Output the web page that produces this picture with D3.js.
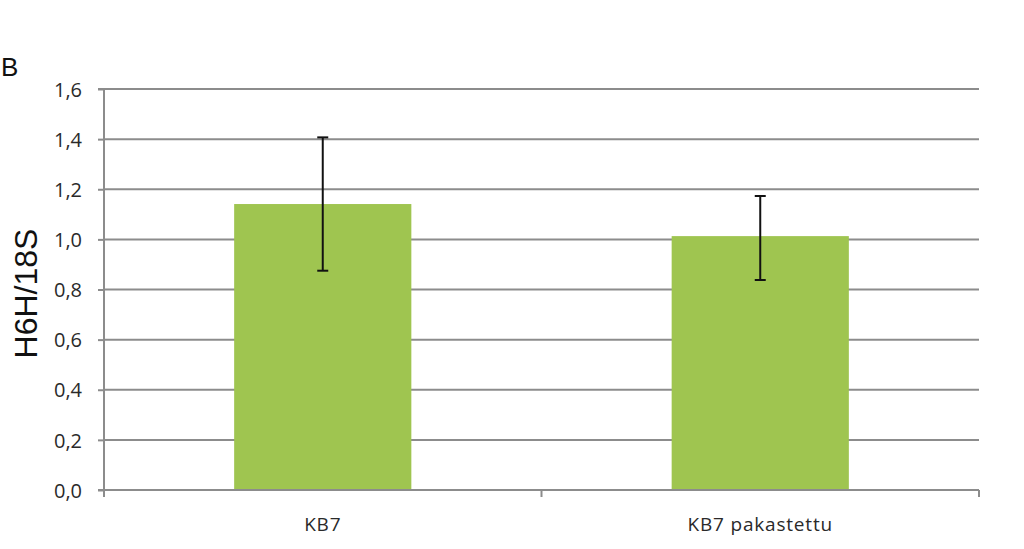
<!DOCTYPE html>
<html><head><meta charset="utf-8">
<script src="https://cdn.jsdelivr.net/npm/d3@7"></script>
<style>body{margin:0;background:#fff}</style>
</head><body>
<svg id="c" width="1024" height="549"></svg>
<script>
const categories = ["KB7", "KB7 pakastettu"];
const values = [1.141, 1.013];
const errorsUp = [0.266, 0.160];
const errorsDown = [0.266, 0.175];
const yTicks = [0, 0.2, 0.4, 0.6, 0.8, 1.0, 1.2, 1.4, 1.6];

const svg = d3.select("#c");
const L = 104, R = 979, T = 89, B = 490;
const x = d3.scaleBand().domain(categories).range([L, R]).paddingInner(0.595).paddingOuter(0.2975);
const y = d3.scaleLinear().domain([0, 1.6]).range([B, T]);
const grid = "#8c8c8c";
const tickFont = "'Open Sans', sans-serif";

// gridlines
svg.append("g").selectAll("line").data(yTicks.slice(1)).join("line")
  .attr("x1", L).attr("x2", R).attr("y1", d => y(d)).attr("y2", d => y(d))
  .attr("stroke", grid).attr("stroke-width", 2);

// bars
svg.append("g").selectAll("rect").data(categories).join("rect")
  .attr("x", d => x(d)).attr("width", x.bandwidth())
  .attr("y", (d, i) => y(values[i])).attr("height", (d, i) => B - y(values[i]))
  .attr("fill", "#9fc550");

// y axis
const yAxis = d3.axisLeft(y).tickValues(yTicks).tickSize(6).tickPadding(16)
  .tickFormat(d => d3.format(".1f")(d).replace(".", ","));
const ya = svg.append("g").attr("transform", `translate(${L},0)`).call(yAxis);
ya.select(".domain").attr("stroke", grid).attr("stroke-width", 2).attr("d", `M-6,${T}H0V${B}H-6`);
ya.selectAll(".tick line").attr("stroke", grid).attr("stroke-width", 2);
ya.selectAll(".tick text").style("font-family", tickFont)
  .style("font-size", "20px").attr("fill", "#2a2a2a").attr("dy", "0.36em");

// x axis
const xb = d3.scaleLinear().domain([0, categories.length]).range([L, R]);
const xa = svg.append("g").attr("transform", `translate(0,${B})`);
xa.append("line").attr("x1", L).attr("x2", R).attr("stroke", grid).attr("stroke-width", 2);
xa.selectAll("line.t").data(d3.range(categories.length + 1)).join("line").attr("class", "t")
  .attr("x1", d => xb(d)).attr("x2", d => xb(d)).attr("y1", 0).attr("y2", 7)
  .attr("stroke", grid).attr("stroke-width", 2);
xa.selectAll("text").data(categories).join("text")
  .attr("x", d => x(d) + x.bandwidth() / 2).attr("y", 41)
  .attr("text-anchor", "middle").style("font-family", tickFont)
  .style("font-size", "19px").attr("letter-spacing", 0.8).attr("fill", "#2a2a2a").text(d => d);

// error bars
const eb = svg.append("g").attr("stroke", "#111").attr("stroke-width", 2);
categories.forEach((c, i) => {
  const cx = x(c) + x.bandwidth() / 2;
  const hi = y(values[i] + errorsUp[i]), lo = y(values[i] - errorsDown[i]);
  eb.append("line").attr("x1", cx).attr("x2", cx).attr("y1", hi).attr("y2", lo);
  eb.append("line").attr("x1", cx - 5.5).attr("x2", cx + 5.5).attr("y1", hi).attr("y2", hi);
  eb.append("line").attr("x1", cx - 5.5).attr("x2", cx + 5.5).attr("y1", lo).attr("y2", lo);
});

// y title
svg.append("text").attr("transform", `translate(37,${(T + B) / 2 + 4}) rotate(-90)`)
  .attr("text-anchor", "middle").style("font-family", "'Liberation Sans', Arial, sans-serif")
  .style("font-size", "32px").attr("fill", "#111").text("H6H/18S");

// panel label
svg.append("text").attr("x", 1).attr("y", 76).style("font-family", "'Liberation Sans', Arial, sans-serif")
  .style("font-size", "26px").attr("fill", "#111").text("B");
</script>
</body></html>
